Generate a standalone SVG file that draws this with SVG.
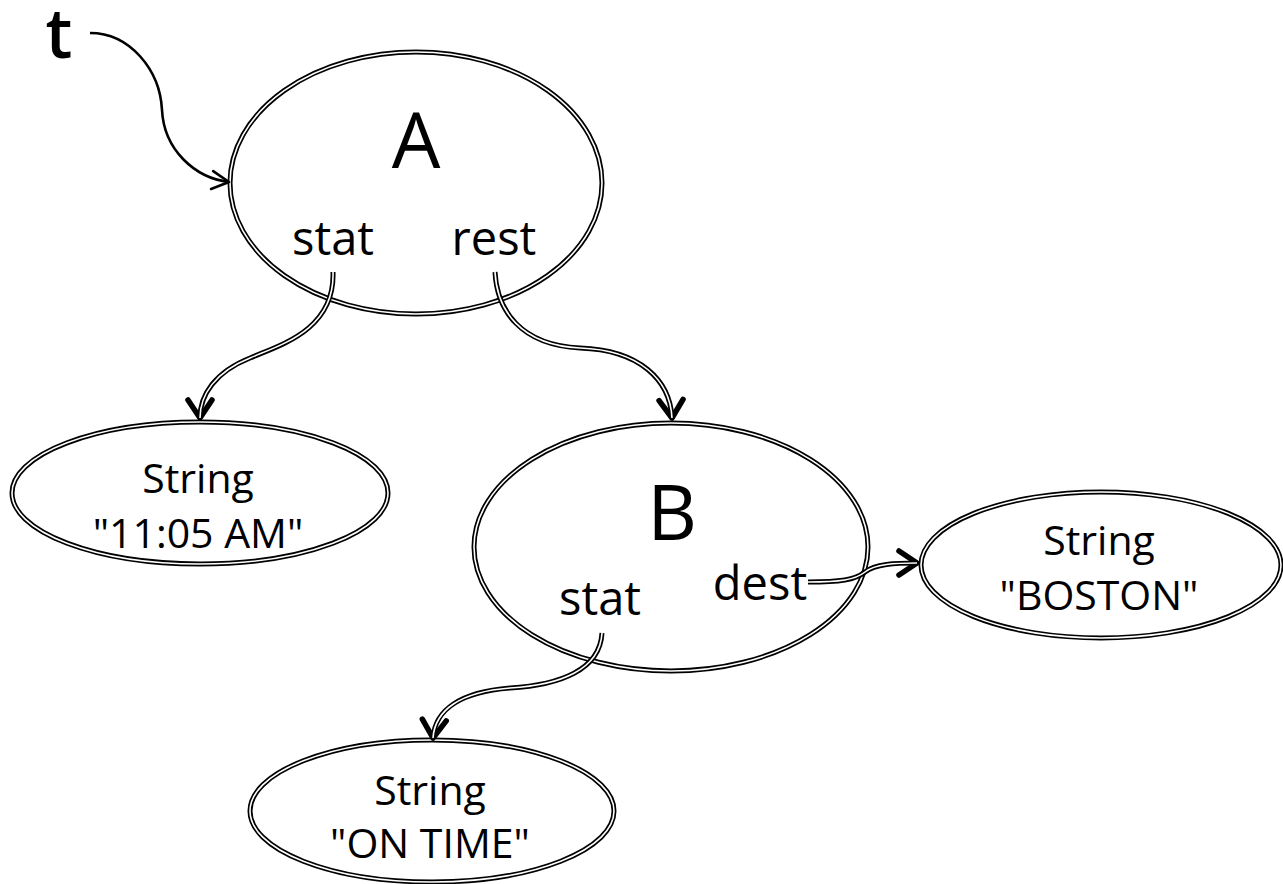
<svg xmlns="http://www.w3.org/2000/svg" xmlns:xlink="http://www.w3.org/1999/xlink" width="1283" height="884" viewBox="0 0 1283 884">
<style>
  text { font-family: "Open Sans", "Noto Sans", "Liberation Sans", sans-serif; fill: #000; text-anchor: middle; }
  .big { font-size: 77px; }
  .field { font-size: 47px; }
  .str { font-size: 41px; }
  .outer { fill: #fff; stroke: #000; stroke-width: 5; }
  .inner { fill: none; stroke: #fff; stroke-width: 1.6; }
  .cb { fill: none; stroke: #000; stroke-width: 5; marker-end: url(#vee); }
  .cw { fill: none; stroke: #fff; stroke-width: 1.6; }
  .thin { fill: none; stroke: #000; stroke-width: 2.6; }
</style>
<defs>
  <marker id="vee" markerUnits="userSpaceOnUse" viewBox="-25 -16 30 32" refX="0" refY="0" markerWidth="30" markerHeight="32" orient="auto" overflow="visible">
    <path d="M -18 -12 L 0 0 L -18 12" fill="none" stroke="#000" stroke-width="5.5" stroke-linecap="round" stroke-linejoin="round"/>
  </marker>
  <marker id="veeThin" markerUnits="userSpaceOnUse" viewBox="-25 -16 30 32" refX="0" refY="0" markerWidth="30" markerHeight="32" orient="auto" overflow="visible">
    <path d="M -17 -9 L 0 0 L -17 9" fill="none" stroke="#000" stroke-width="2.6" stroke-linecap="round" stroke-linejoin="round"/>
  </marker>
  <path id="p1" d="M 333 272 C 335 330, 280 345, 250 358 C 215 372, 200 395, 200 418"/>
  <path id="p2" d="M 495 272 C 497 310, 520 345, 580 348 C 640 350, 670 380, 672 418"/>
  <path id="p3" d="M 602 633 C 600 670, 560 685, 510 688 C 460 692, 435 710, 433 738"/>
  <path id="p4" d="M 808 582 C 840 582, 855 580, 865 572 C 875 564, 895 563, 917 563"/>
</defs>
<rect width="1283" height="884" fill="#fff"/>

<g id="node-A">
  <ellipse class="outer" cx="416" cy="183" rx="186" ry="131"/>
  <ellipse class="inner" cx="416" cy="183" rx="186" ry="131"/>
  <text class="big" x="416" y="168">A</text>
  <text class="field" x="333" y="255">stat</text>
  <text class="field" x="494" y="255">rest</text>
</g>

<g id="node-str1105">
  <ellipse class="outer" cx="200" cy="493" rx="188" ry="71"/>
  <ellipse class="inner" cx="200" cy="493" rx="188" ry="71"/>
  <text class="str" x="198" y="493">String</text>
  <text class="str" x="198" y="548">"11:05 AM"</text>
</g>

<g id="node-B">
  <ellipse class="outer" cx="671" cy="547" rx="197" ry="124"/>
  <ellipse class="inner" cx="671" cy="547" rx="197" ry="124"/>
  <text class="big" x="672" y="540">B</text>
  <text class="field" x="600" y="615">stat</text>
  <text class="field" x="760" y="600">dest</text>
</g>

<g id="node-strBoston">
  <ellipse class="outer" cx="1101" cy="565" rx="180" ry="73"/>
  <ellipse class="inner" cx="1101" cy="565" rx="180" ry="73"/>
  <text class="str" x="1099" y="555">String</text>
  <text class="str" x="1099" y="610">"BOSTON"</text>
</g>

<g id="node-strOnTime">
  <ellipse class="outer" cx="432" cy="811" rx="182" ry="71"/>
  <ellipse class="inner" cx="432" cy="811" rx="182" ry="71"/>
  <text class="str" x="430" y="805">String</text>
  <text class="str" x="430" y="858">"ON TIME"</text>
</g>

<g id="node-t">
  <text x="59" y="58" style="font-size:68px;font-weight:600">t</text>
</g>

<g id="connectors">
  <path class="thin" d="M 90 33 C 130 33, 160 70, 162 110 C 164 150, 195 178, 229 182" marker-end="url(#veeThin)"/>
  <use xlink:href="#p1" class="cb"/>
  <use xlink:href="#p1" class="cw"/>
  <use xlink:href="#p2" class="cb"/>
  <use xlink:href="#p2" class="cw"/>
  <use xlink:href="#p3" class="cb"/>
  <use xlink:href="#p3" class="cw"/>
  <use xlink:href="#p4" class="cb"/>
  <use xlink:href="#p4" class="cw"/>
</g>
</svg>
